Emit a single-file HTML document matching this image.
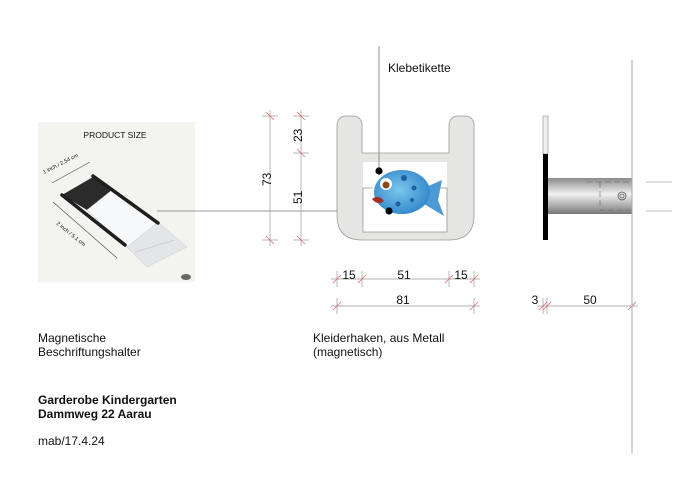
<!DOCTYPE html>
<html><head><meta charset="utf-8"><style>
html,body{margin:0;padding:0;background:#fff;}
svg{display:block;}
text{font-family:"Liberation Sans",sans-serif;fill:#111;}
</style></head><body>
<svg width="700" height="495" viewBox="0 0 700 495" xmlns="http://www.w3.org/2000/svg">
<defs>
<linearGradient id="cyl" x1="0" y1="0" x2="0" y2="1">
<stop offset="0" stop-color="#8a8a8a"/><stop offset="0.45" stop-color="#f2f2f2"/><stop offset="1" stop-color="#777"/>
</linearGradient>
<radialGradient id="fish" cx="0.45" cy="0.45" r="0.6"><stop offset="0" stop-color="#7cc6ee"/><stop offset="1" stop-color="#2f86c8"/></radialGradient>
</defs>

<!-- product image -->
<rect x="38" y="122" width="157" height="160" fill="#f3f3f0"/>
<text x="115" y="138" font-size="8.5" text-anchor="middle" fill="#444">PRODUCT SIZE</text>
<polygon points="127,247 158,222 187,247 147,267" fill="#e4e5e8" stroke="#ccc" stroke-width="0.5"/>
<line x1="135" y1="252" x2="175" y2="240" stroke="#bbb" stroke-width="0.6"/>
<polygon points="62,195 93,177 112,190 87,210" fill="#2b2b2b"/>
<polygon points="87,210 112,190 158,222 127,247" fill="#f7f8fa" stroke="#ccc" stroke-width="0.5"/>
<line x1="93" y1="176" x2="158" y2="223" stroke="#1e1e1e" stroke-width="3.5" stroke-linecap="round"/>
<line x1="62" y1="195" x2="125" y2="245" stroke="#1e1e1e" stroke-width="3.5" stroke-linecap="round"/>
<line x1="52" y1="183" x2="90" y2="162" stroke="#555" stroke-width="0.7"/>
<line x1="53" y1="202" x2="117" y2="258" stroke="#555" stroke-width="0.7"/>
<text font-size="5.5" fill="#444" transform="translate(44,174) rotate(-27)">1 inch / 2.54 cm</text>
<text font-size="5.5" fill="#444" transform="translate(56,224) rotate(39)">2 inch / 5.1 cm</text>
<ellipse cx="186" cy="277" rx="5" ry="3" fill="#666"/>
<line x1="157" y1="211" x2="390" y2="211" stroke="#777" stroke-width="0.8"/>

<!-- hook front -->
<path d="M347,116 H352 Q362,116 362,126 V153 H449 V126 Q449,116 459,116 H464 Q474,116 474,126 V215 Q474,240 449,240 H362 Q337,240 337,215 V126 Q337,116 347,116 Z" fill="#e5e5e3" stroke="#9a9a9a" stroke-width="0.8"/>
<rect x="363" y="162" width="84" height="70" fill="#fff"/>
<rect x="363" y="188" width="84" height="44" fill="none" stroke="#999" stroke-width="0.8"/>
<!-- fish -->
<ellipse cx="404" cy="192" rx="32" ry="26" fill="#fff" opacity="0.9"/>
<polygon points="424,188 442,180 438,200 444,216 424,204" fill="#4b9ad6"/>
<ellipse cx="402" cy="192" rx="28" ry="22" fill="url(#fish)"/>
<circle cx="386" cy="184" r="6" fill="#fff"/><circle cx="386" cy="185" r="3.5" fill="#8a4a18"/>
<path d="M372,199 q7,-5 12,2 q-6,5 -12,-2z" fill="#a0302a"/>
<circle cx="404" cy="178" r="3" fill="#1f5f9e"/><circle cx="414" cy="188" r="2.5" fill="#1f5f9e"/><circle cx="398" cy="204" r="2.5" fill="#1f5f9e"/><circle cx="412" cy="200" r="2" fill="#1f5f9e"/>
<line x1="379" y1="46" x2="379" y2="171" stroke="#777" stroke-width="0.8"/>
<circle cx="379" cy="171" r="3.6" fill="#000"/>
<circle cx="389" cy="211" r="3.6" fill="#000"/>
<text x="388" y="72" font-size="12">Klebetikette</text>

<!-- vertical dims -->
<g stroke="#999" stroke-width="0.7">
<line x1="270" y1="110" x2="270" y2="246"/>
<line x1="262" y1="116" x2="278" y2="116"/><line x1="262" y1="240" x2="278" y2="240"/>
<line x1="301" y1="110" x2="301" y2="246"/>
<line x1="293" y1="116" x2="309" y2="116"/><line x1="293" y1="153" x2="309" y2="153"/><line x1="293" y1="240" x2="309" y2="240"/>
</g>
<g stroke="#d66" stroke-width="0.8">
<line x1="266" y1="112" x2="274" y2="120"/><line x1="266" y1="236" x2="274" y2="244"/>
<line x1="297" y1="112" x2="305" y2="120"/><line x1="297" y1="149" x2="305" y2="157"/><line x1="297" y1="236" x2="305" y2="244"/>
</g>
<text font-size="12" transform="translate(271,186) rotate(-90)">73</text>
<text font-size="12" transform="translate(302,142) rotate(-90)">23</text>
<text font-size="12" transform="translate(302,204) rotate(-90)">51</text>

<!-- horizontal dims -->
<g stroke="#999" stroke-width="0.7">
<line x1="331" y1="279" x2="480" y2="279"/>
<line x1="337" y1="271" x2="337" y2="287"/><line x1="362" y1="271" x2="362" y2="287"/><line x1="449" y1="271" x2="449" y2="287"/><line x1="474" y1="271" x2="474" y2="287"/>
<line x1="331" y1="306" x2="480" y2="306"/>
<line x1="337" y1="298" x2="337" y2="314"/><line x1="474" y1="298" x2="474" y2="314"/>
<line x1="537" y1="306" x2="638" y2="306"/>
<line x1="543" y1="298" x2="543" y2="314"/><line x1="547" y1="298" x2="547" y2="314"/>
</g>
<g stroke="#d66" stroke-width="0.8">
<line x1="333" y1="283" x2="341" y2="275"/><line x1="358" y1="283" x2="366" y2="275"/><line x1="445" y1="283" x2="453" y2="275"/><line x1="470" y1="283" x2="478" y2="275"/>
<line x1="333" y1="310" x2="341" y2="302"/><line x1="470" y1="310" x2="478" y2="302"/>
<line x1="539" y1="310" x2="547" y2="302"/><line x1="543" y1="310" x2="551" y2="302"/><line x1="628" y1="310" x2="636" y2="302"/>
</g>
<text x="349" y="279" font-size="12" text-anchor="middle">15</text>
<text x="404" y="279" font-size="12" text-anchor="middle">51</text>
<text x="461" y="279" font-size="12" text-anchor="middle">15</text>
<text x="403" y="304" font-size="12" text-anchor="middle">81</text>
<text x="535" y="304" font-size="12" text-anchor="middle">3</text>
<text x="590" y="304" font-size="12" text-anchor="middle">50</text>

<!-- side view -->
<rect x="548" y="178" width="84" height="36" fill="url(#cyl)"/>
<path d="M587,182 H632 M600,182 V210 H632" fill="none" stroke="#777" stroke-width="0.7" stroke-dasharray="6,3"/>
<circle cx="622" cy="196" r="4" fill="none" stroke="#555" stroke-width="0.8"/><circle cx="622" cy="196" r="2" fill="none" stroke="#555" stroke-width="0.8"/>
<rect x="543" y="116" width="5" height="38" fill="#eee" stroke="#999" stroke-width="0.7"/>
<rect x="543" y="154" width="5" height="86" fill="#000"/>
<line x1="632" y1="60" x2="632" y2="453" stroke="#aaa" stroke-width="1"/>
<line x1="646" y1="182" x2="672" y2="182" stroke="#aaa" stroke-width="0.8"/>
<line x1="646" y1="211" x2="672" y2="211" stroke="#aaa" stroke-width="0.8"/>

<!-- texts -->
<text x="38" y="342" font-size="12">Magnetische</text>
<text x="38" y="356" font-size="12">Beschriftungshalter</text>
<text x="313" y="342" font-size="12">Kleiderhaken, aus Metall</text>
<text x="313" y="356" font-size="12">(magnetisch)</text>
<text x="38" y="404" font-size="12" font-weight="bold">Garderobe Kindergarten</text>
<text x="38" y="418" font-size="12" font-weight="bold">Dammweg 22 Aarau</text>
<text x="38" y="445" font-size="12">mab/17.4.24</text>
</svg>
</body></html>
